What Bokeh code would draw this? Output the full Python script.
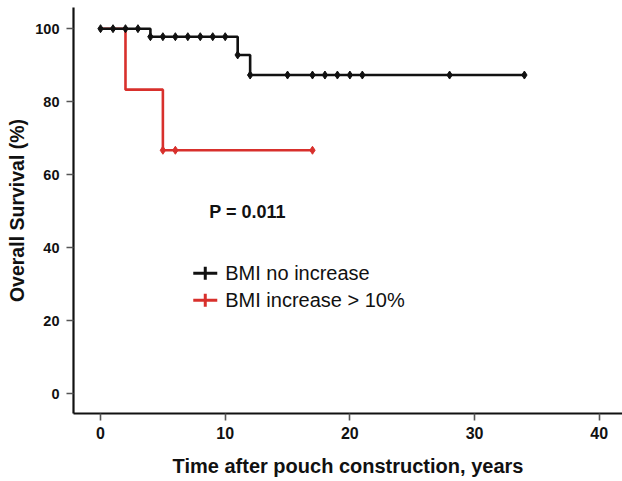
import numpy as np
from bokeh.plotting import figure
from bokeh.models import Range1d, FixedTicker, Label
from bokeh.embed import file_html
from bokeh.resources import INLINE

# ---- data ----
# Kaplan-Meier step points (event times, survival %)
noinc_times = [0, 4, 11, 12, 34]
noinc_surv = [100, 97.8, 92.8, 87.3, 87.3]
noinc_censor = [0, 1, 2, 3, 4, 5, 6, 7, 8, 9, 10, 11, 12, 15, 17, 18, 19, 20, 21, 28, 34]

inc_times = [0, 2, 5, 17]
inc_surv = [100, 83.3, 66.7, 66.7]
inc_censor = [5, 6, 17]

x_ticks = [0, 10, 20, 30, 40]
y_ticks = [0, 20, 40, 60, 80, 100]
labels = ["BMI no increase", "BMI increase > 10%"]
p_text = "P = 0.011"

BLACK = "#111111"
RED = "#d8302c"
FONT = "Liberation Sans"


def surv_at(times, surv, t):
    idx = np.searchsorted(np.asarray(times), np.asarray(t), side="right") - 1
    return list(np.asarray(surv)[idx])


p = figure(width=622, height=481, output_backend="svg", toolbar_location=None,
           x_range=Range1d(-2.17, 41.87), y_range=Range1d(-5.4, 105.8),
           min_border_left=73, min_border_right=0, min_border_top=7,
           min_border_bottom=68)
p.outline_line_color = None
p.xgrid.visible = False
p.ygrid.visible = False
p.background_fill_color = "white"

# curves (red first, black on top)
p.step(inc_times, inc_surv, mode="after", line_color=RED, line_width=2.6)
p.scatter(inc_censor, surv_at(inc_times, inc_surv, inc_censor), marker="diamond",
          size=8, color=RED)
p.step(noinc_times, noinc_surv, mode="after", line_color=BLACK, line_width=2.6)
p.scatter(noinc_censor, surv_at(noinc_times, noinc_surv, noinc_censor), marker="diamond",
          size=8, color=BLACK)

# axes
for ax in (p.xaxis[0], p.yaxis[0]):
    ax.axis_line_color = BLACK
    ax.axis_line_width = 2.2
    ax.major_tick_line_color = "#555555"
    ax.major_tick_line_width = 1.6
    ax.major_tick_in = 0
    ax.major_tick_out = 7
    ax.minor_tick_line_color = None
    ax.major_label_text_font = FONT
    ax.major_label_text_font_style = "bold"
    ax.major_label_text_color = BLACK
    ax.axis_label_text_font = FONT
    ax.axis_label_text_font_style = "bold"
    ax.axis_label_text_color = BLACK

p.xaxis.ticker = FixedTicker(ticks=x_ticks)
p.yaxis.ticker = FixedTicker(ticks=y_ticks)
p.xaxis.major_label_text_font_size = "16px"
p.yaxis.major_label_text_font_size = "14.5px"
p.xaxis.axis_label_text_font_size = "20px"
p.yaxis.axis_label_text_font_size = "19.5px"
p.xaxis.axis_label = "Time after pouch construction, years"
p.yaxis.axis_label = "Overall Survival (%)"
p.xaxis.major_label_standoff = 6
p.yaxis.major_label_standoff = 7
p.xaxis.axis_label_standoff = 13
p.yaxis.axis_label_standoff = 4

# p-value annotation
p.add_layout(Label(x=8.72, y=49.7, text=p_text, text_font=FONT, text_font_style="bold",
                   text_font_size="18px", text_color=BLACK, text_baseline="middle"))

# legend (manual)
leg_x_glyph = 8.4
leg_x_text = 10.0
leg_y = [33.0, 25.6]
for lab, col, yy in zip(labels, [BLACK, RED], leg_y):
    p.scatter([leg_x_glyph], [yy], marker="dash", size=24, line_color=col, line_width=3)
    p.scatter([leg_x_glyph], [yy], marker="dash", size=13, angle=np.pi / 2,
              line_color=col, line_width=3)
    p.add_layout(Label(x=leg_x_text, y=yy, text=lab, text_font=FONT,
                       text_font_size="20px", text_color=BLACK, text_baseline="middle"))

open("out.html", "w").write(file_html(p, INLINE))
